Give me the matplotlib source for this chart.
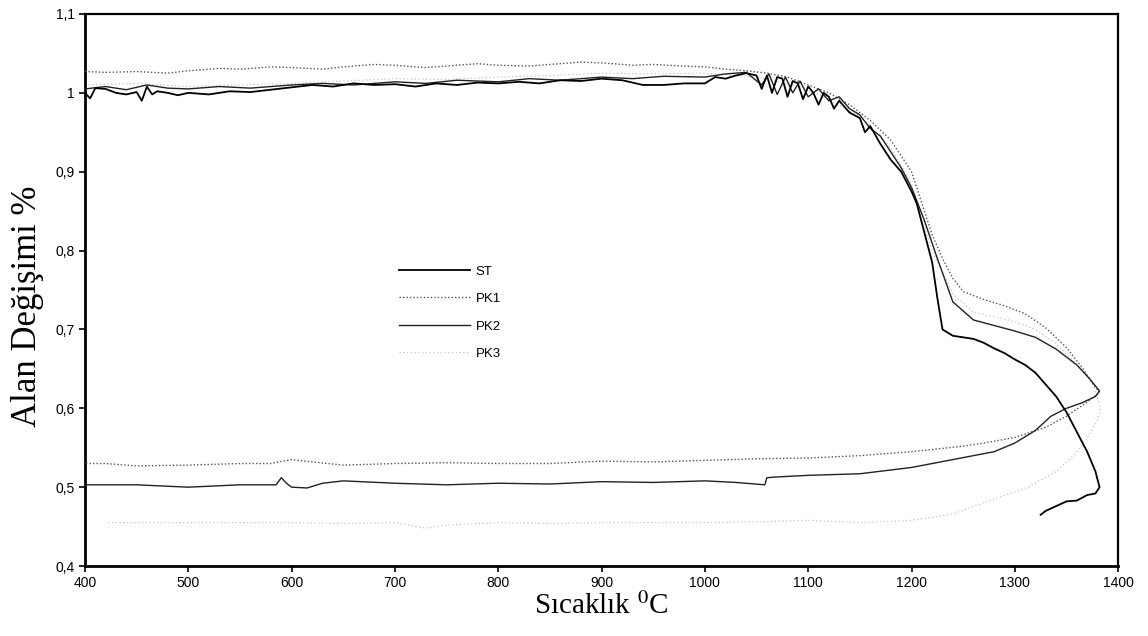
import matplotlib
matplotlib.use("Agg")
import matplotlib.pyplot as plt

plt.rcParams["font.family"] = ["Liberation Sans", "DejaVu Sans"]
plt.rcParams["mathtext.fontset"] = "stix"

# ── Data (heating run, then cooling run) ────────────────────────────────────
st_temp = [400, 405, 410, 420, 430, 440, 450, 455, 460, 465, 470, 480, 490, 500,
           520, 540, 560, 580, 600, 620, 640, 660, 680, 700, 720, 740, 760, 780,
           800, 820, 840, 860, 880, 900, 920, 940, 960, 980, 1000, 1010, 1020,
           1030, 1040, 1050, 1055, 1060, 1065, 1070, 1075, 1080, 1085, 1090,
           1095, 1100, 1105, 1110, 1115, 1120, 1125, 1130, 1140, 1150, 1155,
           1160, 1170, 1180, 1190, 1200, 1205, 1210, 1215, 1220, 1225, 1230,
           1240, 1250, 1260, 1270, 1280, 1290, 1300, 1310, 1320, 1330, 1340,
           1350, 1360, 1370, 1378, 1382,
           1378, 1370, 1360, 1350, 1340, 1330, 1325]
st_area = [1.000, 0.993, 1.006, 1.005, 1.000, 0.998, 1.001, 0.990, 1.008, 0.998,
           1.002, 1.000, 0.997, 1.000, 0.998, 1.002, 1.001, 1.004, 1.007, 1.010,
           1.008, 1.012, 1.010, 1.011, 1.008, 1.012, 1.010, 1.013, 1.012, 1.014,
           1.012, 1.016, 1.015, 1.018, 1.016, 1.010, 1.010, 1.012, 1.012, 1.020,
           1.018, 1.022, 1.025, 1.022, 1.005, 1.022, 1.000, 1.020, 1.018, 0.995,
           1.015, 1.012, 0.992, 1.008, 1.000, 0.985, 1.000, 0.995, 0.980, 0.990,
           0.975, 0.968, 0.950, 0.958, 0.935, 0.915, 0.900, 0.875, 0.860, 0.835,
           0.810, 0.785, 0.740, 0.700, 0.692, 0.690, 0.688, 0.683, 0.676, 0.670,
           0.662, 0.655, 0.645, 0.630, 0.615, 0.595, 0.570, 0.545, 0.520, 0.500,
           0.492, 0.490, 0.483, 0.482, 0.476, 0.470, 0.465]

pk1_temp = [400, 420, 450, 480, 500, 530, 550, 580, 600, 630, 650, 680, 700, 730,
            750, 780, 800, 830, 850, 880, 900, 930, 950, 980, 1000, 1020, 1040,
            1060, 1080, 1100, 1120, 1140, 1160, 1180, 1200, 1210, 1220, 1230,
            1240, 1250, 1260, 1270, 1290, 1310, 1330, 1350, 1365, 1375, 1382,
            1380, 1370, 1350, 1330, 1300, 1270, 1250, 1200, 1150, 1100, 1050,
            1000, 950, 900, 850, 800, 750, 700, 650, 620, 600, 580, 550, 500,
            450, 420, 400]
pk1_area = [1.027, 1.026, 1.027, 1.025, 1.028, 1.031, 1.030, 1.033, 1.032, 1.030,
            1.033, 1.036, 1.035, 1.032, 1.034, 1.037, 1.035, 1.034, 1.036, 1.039,
            1.038, 1.035, 1.036, 1.034, 1.033, 1.030, 1.028, 1.025, 1.020, 1.010,
            1.000, 0.985, 0.965, 0.940, 0.900, 0.860, 0.820, 0.790, 0.765, 0.748,
            0.743, 0.738, 0.730, 0.720, 0.702, 0.677, 0.652, 0.632, 0.620,
            0.618, 0.608, 0.590, 0.576, 0.563, 0.556, 0.552, 0.545, 0.540, 0.537,
            0.536, 0.534, 0.532, 0.533, 0.530, 0.530, 0.531, 0.530, 0.528, 0.532,
            0.535, 0.530, 0.530, 0.528, 0.527, 0.530, 0.530]

pk2_temp = [400, 420, 440, 460, 480, 500, 530, 560, 600, 630, 660, 700, 730, 760,
            800, 830, 860, 900, 930, 960, 1000, 1020, 1040, 1055, 1062, 1070,
            1078, 1085, 1092, 1100, 1110, 1120, 1130, 1140, 1150, 1160, 1170,
            1180, 1190, 1200, 1212, 1225, 1240, 1260, 1280, 1300, 1320, 1340,
            1360, 1372, 1382,
            1378, 1365, 1350, 1335, 1320, 1300, 1280, 1260, 1240, 1200, 1150,
            1100, 1070, 1060, 1058, 1030, 1000, 950, 900, 850, 800, 750, 700,
            650, 630, 615, 600, 595, 590, 585, 550, 500, 450, 400]
pk2_area = [1.005, 1.008, 1.004, 1.010, 1.006, 1.005, 1.008, 1.006, 1.010, 1.012,
            1.010, 1.014, 1.012, 1.016, 1.014, 1.018, 1.016, 1.020, 1.018, 1.021,
            1.020, 1.024, 1.026, 1.010, 1.024, 0.998, 1.020, 1.000, 1.015, 0.995,
            1.005, 0.990, 0.995, 0.980, 0.972, 0.955, 0.945, 0.925, 0.905, 0.880,
            0.840, 0.790, 0.735, 0.712, 0.705, 0.698, 0.690, 0.675, 0.655, 0.638,
            0.622,
            0.615, 0.607, 0.600, 0.590, 0.572, 0.556, 0.545, 0.540, 0.535, 0.525,
            0.517, 0.515, 0.513, 0.512, 0.503, 0.506, 0.508, 0.506, 0.507, 0.504,
            0.505, 0.503, 0.505, 0.508, 0.505, 0.499, 0.500, 0.505, 0.512, 0.503,
            0.503, 0.500, 0.503, 0.503]

pk3_temp = [400, 450, 500, 550, 600, 650, 700, 750, 800, 850, 900, 950, 1000,
            1050, 1100, 1150, 1180, 1200, 1220, 1240, 1260, 1280, 1300, 1320,
            1340, 1360, 1375, 1383,
            1380, 1370, 1357, 1340, 1313, 1280, 1240, 1200, 1150, 1100, 1050,
            1000, 950, 900, 850, 800, 750, 730, 700, 650, 600, 550, 500, 450, 420]
pk3_area = [1.010, 1.012, 1.008, 1.010, 1.012, 1.015, 1.018, 1.017, 1.020, 1.022,
            1.025, 1.024, 1.025, 1.020, 1.005, 0.970, 0.930, 0.885, 0.800, 0.745,
            0.722, 0.716, 0.710, 0.700, 0.682, 0.656, 0.632, 0.600,
            0.585, 0.562, 0.540, 0.520, 0.500, 0.485, 0.466, 0.458, 0.455, 0.458,
            0.456, 0.455, 0.455, 0.455, 0.454, 0.455, 0.452, 0.448, 0.455, 0.454,
            0.455, 0.455, 0.455, 0.455, 0.455]

x_ticks = [400, 500, 600, 700, 800, 900, 1000, 1100, 1200, 1300, 1400]
y_ticks = [0.4, 0.5, 0.6, 0.7, 0.8, 0.9, 1.0, 1.1]
y_tick_labels = ["0,4", "0,5", "0,6", "0,7", "0,8", "0,9", "1", "1,1"]

# ── Figure ──────────────────────────────────────────────────────────────────
fig = plt.figure(figsize=(11.48, 6.36), dpi=100)
ax = fig.add_axes([0.074, 0.110, 0.900, 0.868])

ax.plot(st_temp, st_area, color="black", lw=1.3, label="ST", zorder=4)
ax.plot(pk1_temp, pk1_area, color="#555555", lw=1.0, ls=(0, (1, 1.5)), label="PK1", zorder=3)
ax.plot(pk2_temp, pk2_area, color="#222222", lw=1.0, label="PK2", zorder=3)
ax.plot(pk3_temp, pk3_area, color="#c4c4c4", lw=0.9, ls=(0, (1, 2)), label="PK3", zorder=2)

ax.set_xlim(400, 1400)
ax.set_ylim(0.4, 1.1)
ax.set_xticks(x_ticks)
ax.set_yticks(y_ticks)
ax.set_yticklabels(y_tick_labels)
ax.tick_params(direction="out", length=4, width=1.2, labelsize=10, colors="black")

for side in ["left", "bottom"]:
    ax.spines[side].set_linewidth(2.0)
for side in ["top", "right"]:
    ax.spines[side].set_linewidth(1.6)

ax.set_xlabel("Sıcaklık $^{0}$C", family="Liberation Serif", fontsize=21, labelpad=1)
ax.set_ylabel("Alan Değişimi %", family="Liberation Serif", fontsize=25)
ax.yaxis.set_label_coords(-0.040, 0.47)

ax.legend(loc="upper left", bbox_to_anchor=(0.292, 0.566), frameon=False,
          fontsize=9.5, handlelength=5.4, handletextpad=0.45, labelspacing=1.15)

fig.savefig("out.png", dpi=100, facecolor="white")
